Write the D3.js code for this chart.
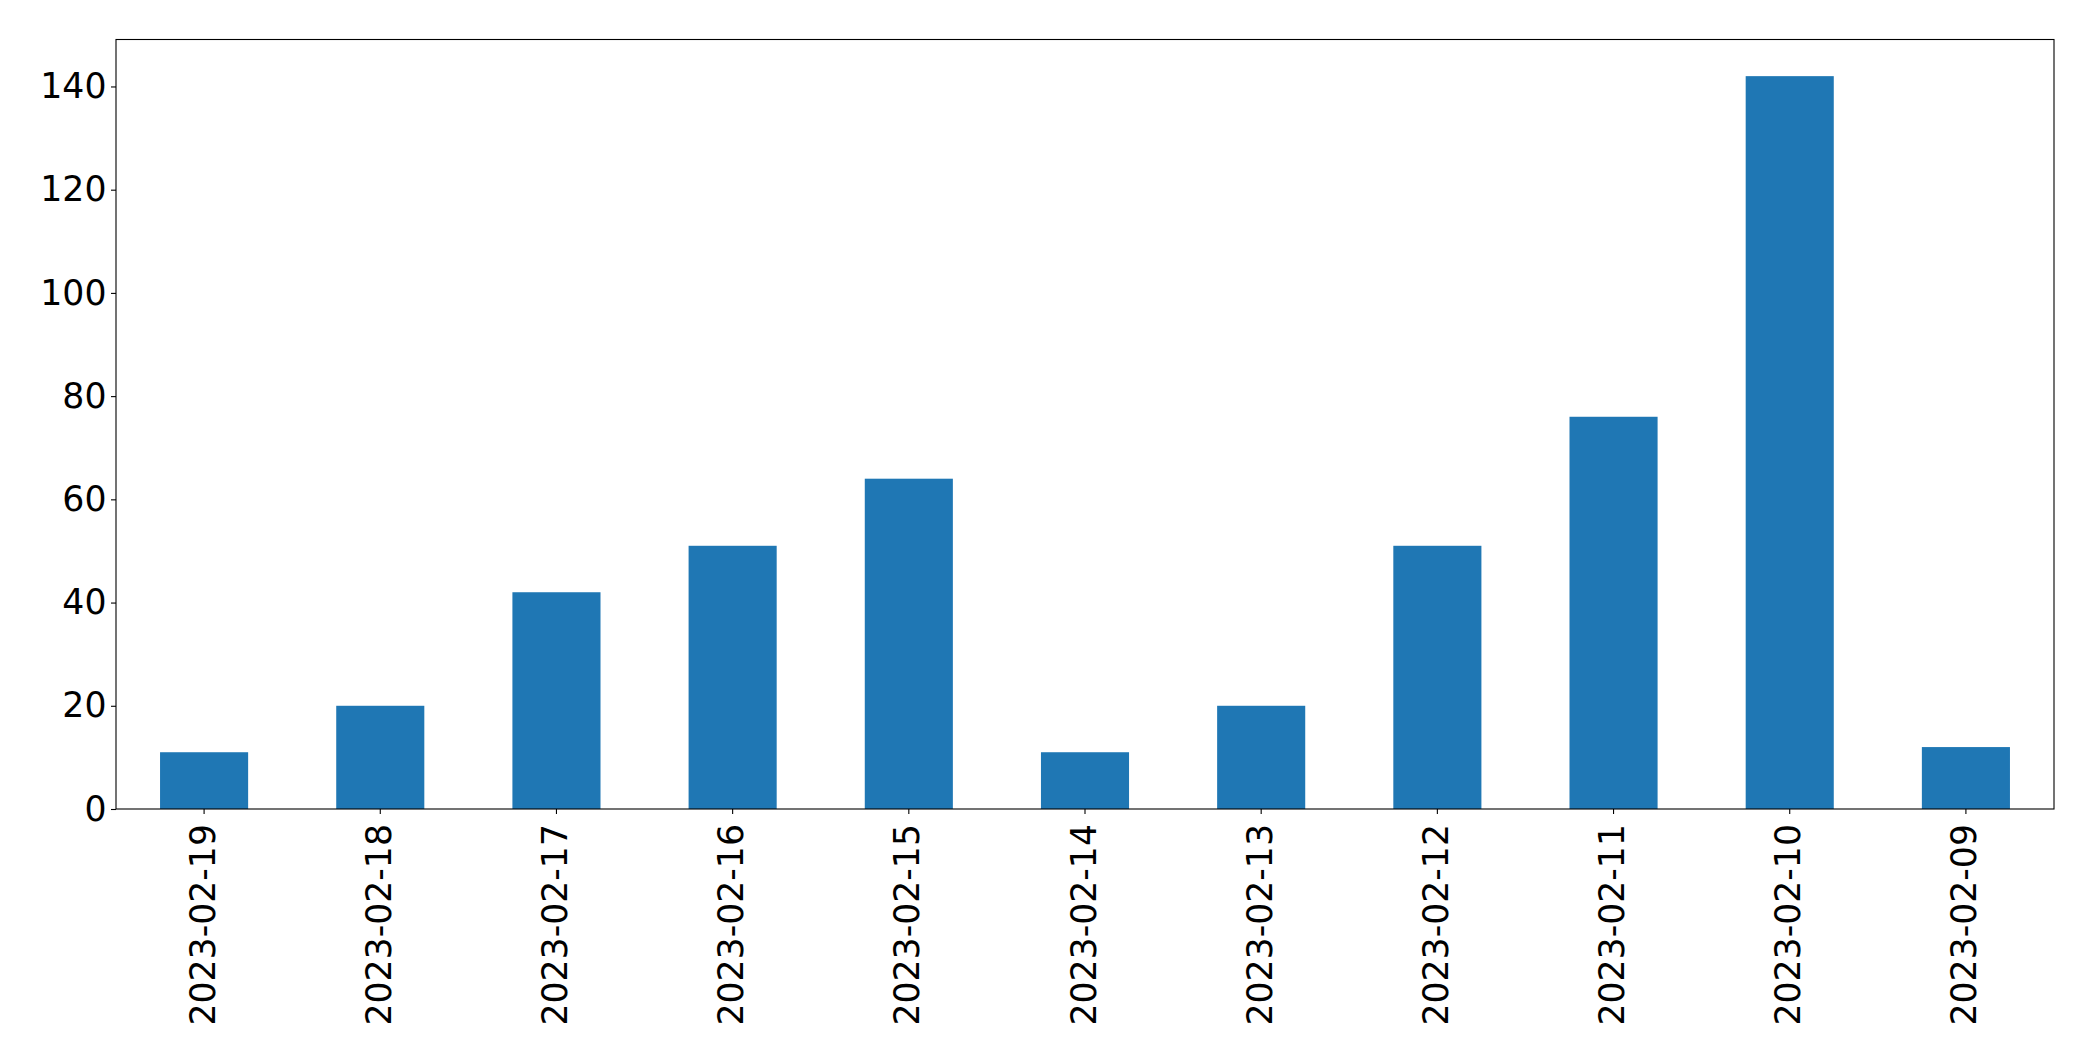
<!DOCTYPE html>
<html>
<head>
<meta charset="utf-8">
<script src="https://cdn.jsdelivr.net/npm/d3@7"></script>
<style>
  html, body { margin: 0; padding: 0; background: #fff; }
  svg { display: block; }
  text { font-family: "DejaVu Sans", sans-serif; fill: #000; }
</style>
</head>
<body>
<svg id="chart" width="2093" height="1061"></svg>
<script>
const categories = ["2023-02-19","2023-02-18","2023-02-17","2023-02-16","2023-02-15","2023-02-14","2023-02-13","2023-02-12","2023-02-11","2023-02-10","2023-02-09"];
const values = [11, 20, 42, 51, 64, 11, 20, 51, 76, 142, 12];
const yTicks = [0, 20, 40, 60, 80, 100, 120, 140];

const W = 2093, H = 1061;
const margin = { left: 116, top: 39.5, right: W - 2054, bottom: H - 809 };
const svg = d3.select("#chart");
const iw = W - margin.left - margin.right;
const ih = H - margin.top - margin.bottom;
const g = svg.append("g").attr("transform", `translate(${margin.left},${margin.top})`);

const x = d3.scaleBand().domain(categories).range([0, iw]).paddingInner(0.5).paddingOuter(0.25);
const y = d3.scaleLinear().domain([0, d3.max(values) * 1.05]).range([ih, 0]);

g.selectAll("rect.bar").data(values).join("rect")
  .attr("class", "bar")
  .attr("x", (d, i) => x(categories[i]))
  .attr("width", x.bandwidth())
  .attr("y", d => y(d))
  .attr("height", d => y(0) - y(d))
  .attr("fill", "#1f77b4");

const fs = 34.7;
const yAxis = g.append("g").call(d3.axisLeft(y).tickValues(yTicks).tickSize(5).tickPadding(4.5).tickFormat(d3.format("d")));
yAxis.select(".domain").remove();
yAxis.selectAll("text").style("font-size", fs + "px");
yAxis.selectAll("line").attr("stroke", "#000").attr("stroke-width", 1.1);

const xAxis = g.append("g").attr("transform", `translate(0,${ih})`)
  .call(d3.axisBottom(x).tickSize(5).tickPadding(0));
xAxis.select(".domain").remove();
xAxis.selectAll("line").attr("stroke", "#000").attr("stroke-width", 1.1);
xAxis.selectAll("text")
  .style("font-size", fs + "px")
  .attr("text-anchor", "end")
  .attr("dy", null)
  .attr("y", 0)
  .attr("transform", "translate(-1.5,15) rotate(-90)")
  .attr("dominant-baseline", "central");

g.append("rect").attr("x", 0).attr("y", 0).attr("width", iw).attr("height", ih)
  .attr("fill", "none").attr("stroke", "#000").attr("stroke-width", 1.1);
</script>
</body>
</html>
